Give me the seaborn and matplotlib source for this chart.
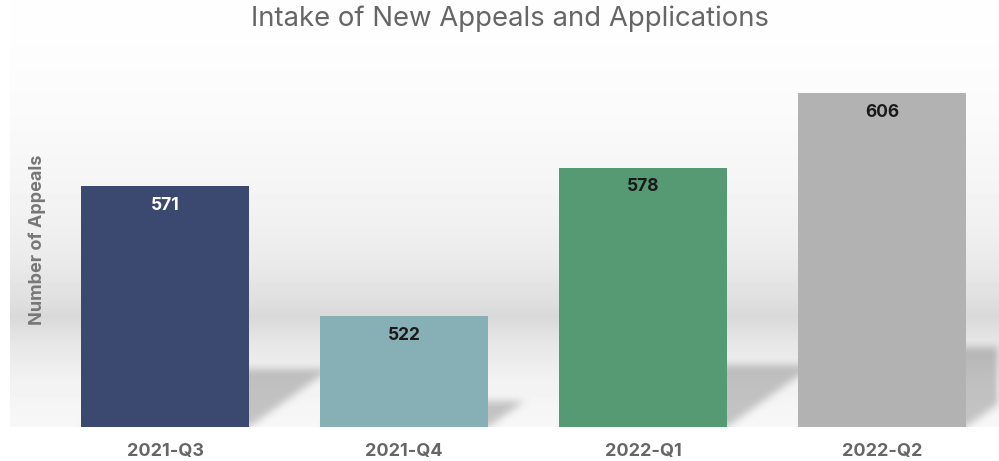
import numpy as np
import matplotlib
matplotlib.use("Agg")
import matplotlib.pyplot as plt
from matplotlib.path import Path
import seaborn as sns

sns.set_theme(style="white")
plt.rcParams["font.family"] = ["Inter", "DejaVu Sans"]

# Datos
quarters = ["2021-Q3", "2021-Q4", "2022-Q1", "2022-Q2"]
appeals = [571, 522, 578, 606]
bar_colors = ["#3b4970", "#86afb6", "#569a74", "#b2b2b2"]
label_colors = ["white", "#1a1a1a", "#1a1a1a", "#1a1a1a"]

y_min, y_max = 480, 620

W, H = 999, 461
fig = plt.figure(figsize=(W / 100, H / 100), dpi=100)

# Fondo (imagen de la figura completa)
bg = fig.add_axes([0, 0, 1, 1])
bg.axis("off")

# Ejes principales
top_px, bot_px = 56.2, 427.3
ax = fig.add_axes([45.5 / W, (H - bot_px) / H, 3.92 * 239 / W, (bot_px - top_px) / H])
ax.patch.set_alpha(0)

sns.barplot(x=quarters, y=appeals, hue=quarters, palette=bar_colors, legend=False,
            width=0.7, saturation=1, linewidth=0, ax=ax, zorder=3)
ax.set_ylim(y_min, y_max)
ax.set_xlim(-0.5, 3.42)

# Degradado gris del panel
rows = np.arange(H)
keys_y = [30, 120, 200, 260, 300, 316, 340, 380, 427]
keys_v = [0.995, 0.98, 0.955, 0.92, 0.875, 0.85, 0.90, 0.95, 0.97]
shade = np.interp(rows, keys_y, keys_v)
img = np.repeat(shade[:, None], W, axis=1)
img[:, :10] = 1.0
img[int(round(bot_px)):, :] = 1.0

# Sombras de las barras, proyectadas hacia atras a la derecha
yy, xx = np.mgrid[0:H, 0:W]
pts = np.column_stack([xx.ravel() + 0.5, yy.ravel() + 0.5])
mask = np.zeros(H * W)
for i, v in enumerate(appeals):
    (xl, yb), = ax.transData.transform([(i - 0.35, y_min)])
    (xr, yt), = ax.transData.transform([(i + 0.35, v)])
    yb, yt = H - yb, H - yt
    dy = 0.24 * (yb - yt)
    dx = 1.4 * dy
    poly = Path([(xl, yb), (xr, yb), (xr + dx, yb - dy), (xl + dx, yb - dy)])
    mask = np.maximum(mask, poly.contains_points(pts).astype(float))
mask = mask.reshape(H, W)

k = np.ones(9) / 9
for _ in range(2):
    mask = np.apply_along_axis(lambda r: np.convolve(r, k, mode="same"), 1, mask)
    mask = np.apply_along_axis(lambda c: np.convolve(c, k, mode="same"), 0, mask)
mask[int(round(bot_px)):, :] = 0
img = img - 0.2 * mask

bg.imshow(img, cmap="gray", vmin=0, vmax=1, aspect="auto", interpolation="nearest",
          extent=(0, W, H, 0))
bg.set_xlim(0, W)
bg.set_ylim(H, 0)

for i, v in enumerate(appeals):
    ax.annotate(str(v), (i, v), xytext=(0, -14), textcoords="offset points",
                ha="center", va="center", fontsize=12.5, fontweight="bold",
                color=label_colors[i], zorder=4)

ax.set_yticks([])
ax.tick_params(axis="x", length=0, pad=11, labelsize=13, labelcolor="#666666")
for t in ax.get_xticklabels():
    t.set_fontweight("bold")
sns.despine(ax=ax, left=True, bottom=True)
ax.set_xlabel("")
ax.set_ylabel("Number of Appeals", fontsize=13, fontweight="bold", color="#777777")
ax.yaxis.set_label_coords(0.0, 0.505)

fig.text(510 / W, 1 - 19 / H, "Intake of New Appeals and Applications",
         ha="center", va="center", fontsize=19.8, color="#666666")

fig.savefig("out.png", dpi=100)
